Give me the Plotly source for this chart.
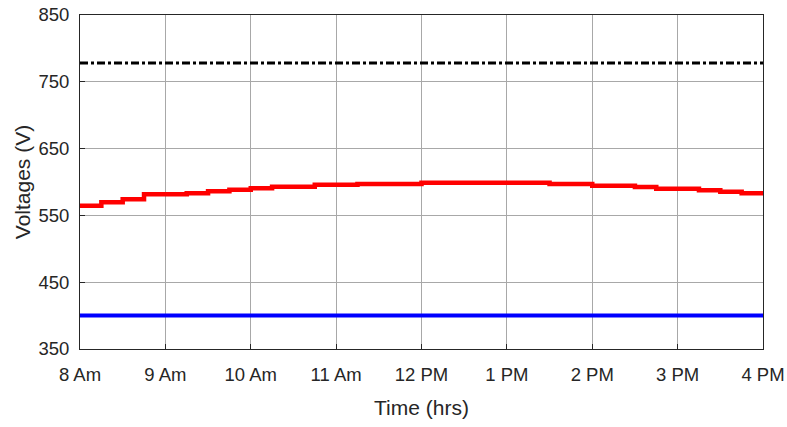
import plotly.graph_objects as go

# time in hours (15-min steps)
red_t = [8 + 0.25 * i for i in range(33)]
red_v = [564.5, 569.5, 574, 581.5, 581.5, 583, 586, 588.5, 590.5, 593, 593, 596,
         596, 597, 597, 597, 599, 599, 599, 599, 599, 599, 597, 597, 594.5, 594.5,
         592.5, 590, 590, 587.5, 585.5, 583, 583]
blue_t = [8, 16]
blue_v = [400, 400]
black_t = [8, 16]
black_v = [778, 778]

tick_vals = [8, 9, 10, 11, 12, 13, 14, 15, 16]
tick_text = ["8 Am", "9 Am", "10 Am", "11 Am", "12 PM", "1 PM", "2 PM", "3 PM", "4 PM"]
y_ticks = [350, 450, 550, 650, 750, 850]

font_fam = "Liberation Sans Narrow, Arial Narrow, Liberation Sans, Arial"

fig = go.Figure()
fig.add_trace(go.Scatter(x=black_t, y=black_v, mode="lines",
                         line=dict(color="black", width=3, dash="8px,3px,3px,3px")))
fig.add_trace(go.Scatter(x=red_t, y=red_v, mode="lines", line_shape="hv",
                         line=dict(color="#ff0000", width=4.5)))
fig.add_trace(go.Scatter(x=blue_t, y=blue_v, mode="lines",
                         line=dict(color="#0000ff", width=4)))

fig.update_layout(
    width=787, height=427,
    margin=dict(l=80, r=24, t=15, b=78),
    paper_bgcolor="white", plot_bgcolor="white",
    showlegend=False,
    font=dict(family=font_fam, size=18.5, color="#262626"),
    xaxis=dict(range=[8, 16], tickvals=tick_vals, ticktext=tick_text,
               automargin=False,
               showgrid=True, gridcolor="#a8a8a8", gridwidth=1,
               showline=True, linecolor="#262626", linewidth=1, mirror=True,
               ticks="inside", ticklen=5, tickcolor="#262626",
               ticklabelstandoff=9,
               zeroline=False,
               title=dict(text="Time (hrs)", font=dict(size=21), standoff=16)),
    yaxis=dict(range=[350, 850], tickvals=y_ticks,
               automargin=False,
               showgrid=True, gridcolor="#a8a8a8", gridwidth=1,
               showline=True, linecolor="#262626", linewidth=1, mirror=True,
               ticks="inside", ticklen=5, tickcolor="#262626",
               ticklabelstandoff=6,
               zeroline=False,
               title=dict(text="Voltages (V)", font=dict(size=21), standoff=2)),
)

fig.write_html("out.html", config={"displayModeBar": False},
               post_script="document.body.style.margin='0';document.body.style.overflow='hidden';")
